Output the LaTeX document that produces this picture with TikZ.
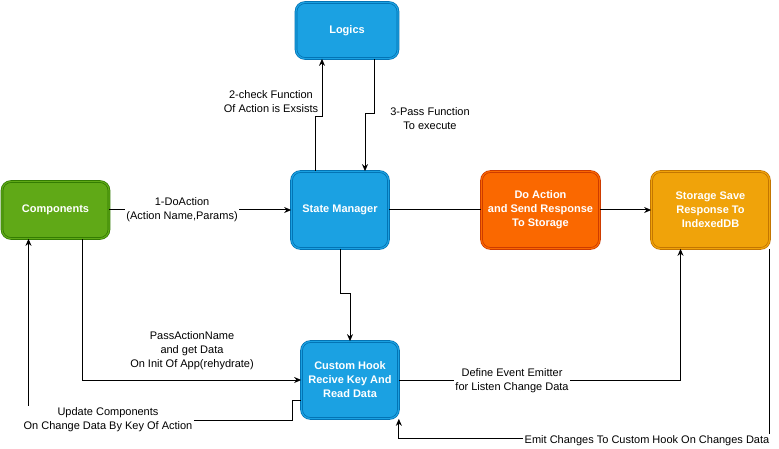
\documentclass[tikz,border=0pt]{standalone}
\usepackage{xcolor}
\usepackage{fontspec}
\setmainfont{Liberation Sans}
\usepackage{tikz}
\usetikzlibrary{arrows.meta}

\definecolor{greenfill}{HTML}{60A917}
\definecolor{greenline}{HTML}{2D7600}
\definecolor{bluefill}{HTML}{1BA1E2}
\definecolor{blueline}{HTML}{006EAF}
\definecolor{orangefill}{HTML}{FA6800}
\definecolor{orangeline}{HTML}{C73500}
\definecolor{amberfill}{HTML}{F0A30A}
\definecolor{amberline}{HTML}{BD7000}

\begin{document}
\begin{tikzpicture}[x=1pt,y=-1pt,
             box/.style 2 args={rectangle, rounded corners=9pt, fill=#1, draw=#2,
               double=#1, double distance=1.2pt, line width=.7pt, text=white,
               font=\bfseries\fontsize{11}{14}\selectfont, align=center},
             lbl/.style={fill=white, inner sep=1.5pt, align=center,
               font=\fontsize{11}{14}\selectfont},
             wire/.style={line width=1pt},
             arr/.style={wire, -{Stealth[length=7pt,width=6pt]}}]
             \useasboundingbox (0,0) rectangle (779,449);

             % boxes
             \node[box={greenfill}{greenline}, minimum width=107pt, minimum height=57pt] (comp) at (55.5,210) {Components};
             \node[box={bluefill}{blueline}, minimum width=102pt, minimum height=56pt] (logic) at (347,30.5) {Logics};
             \node[box={bluefill}{blueline}, minimum width=97pt, minimum height=77pt] (sm) at (340,210) {State Manager};
             \node[box={orangefill}{orangeline}, minimum width=118pt, minimum height=77pt] (doact) at (540.5,210) {Do Action\\and Send Response\\To Storage};
             \node[box={amberfill}{amberline}, minimum width=118pt, minimum height=77pt] (store) at (710.5,210) {Storage Save\\Response To\\IndexedDB};
             \node[box={bluefill}{blueline}, minimum width=97pt, minimum height=77pt] (hook) at (350,380) {Custom Hook\\Recive Key And\\Read Data};

             % connectors
             \draw[arr] (comp) -- node[lbl, pos=.4] (l1) {1-DoAction\\(Action Name,Params)} (sm);
             \draw[arr] ([xshift=-25pt]sm.north) -- ++(0,-55) -- ++(7,0) -- ([xshift=-25pt]logic.south)
               node[lbl, fill=none] (l2) at (271,102) {2-check Function\\Of Action is Exsists};
             \draw[arr] ([xshift=27pt]logic.south) -- ++(0,55) -- ++(-9,0) -- ([xshift=25pt]sm.north)
               node[lbl, fill=none] (l3) at (430,119) {3-Pass Function\\To execute};
             \draw[wire] (sm) -- (doact);
             \draw[arr] (doact) -- (store);
             \draw[arr] (sm.south) -- ++(0,45) -| (hook.north);
             \draw[arr] ([xshift=27pt]comp.south) |- (hook.west)
               node[lbl, fill=none] (l4) at (192,351) {PassActionName\\and get Data\\On Init Of App(rehydrate)};
             \draw[arr] ([yshift=-20pt]hook.west) -- ++(-9,0) -- ++(0,20) -| ([xshift=-27pt]comp.south)
               node[lbl] (l5) at (108,420) {Update Components\\On Change Data By Key Of Action};
             \draw[arr] (hook.east) -| ([xshift=-30pt]store.south)
               node[lbl] (l6) at (512,381) {Define Event Emitter\\for Listen Change Data};
             \draw[arr] (store.south east) -- ++(0,190) -| (hook.south east)
               node[lbl] (l7) at (647,441) {Emit Changes To Custom Hook On Changes Data};
\end{tikzpicture}
\end{document}
